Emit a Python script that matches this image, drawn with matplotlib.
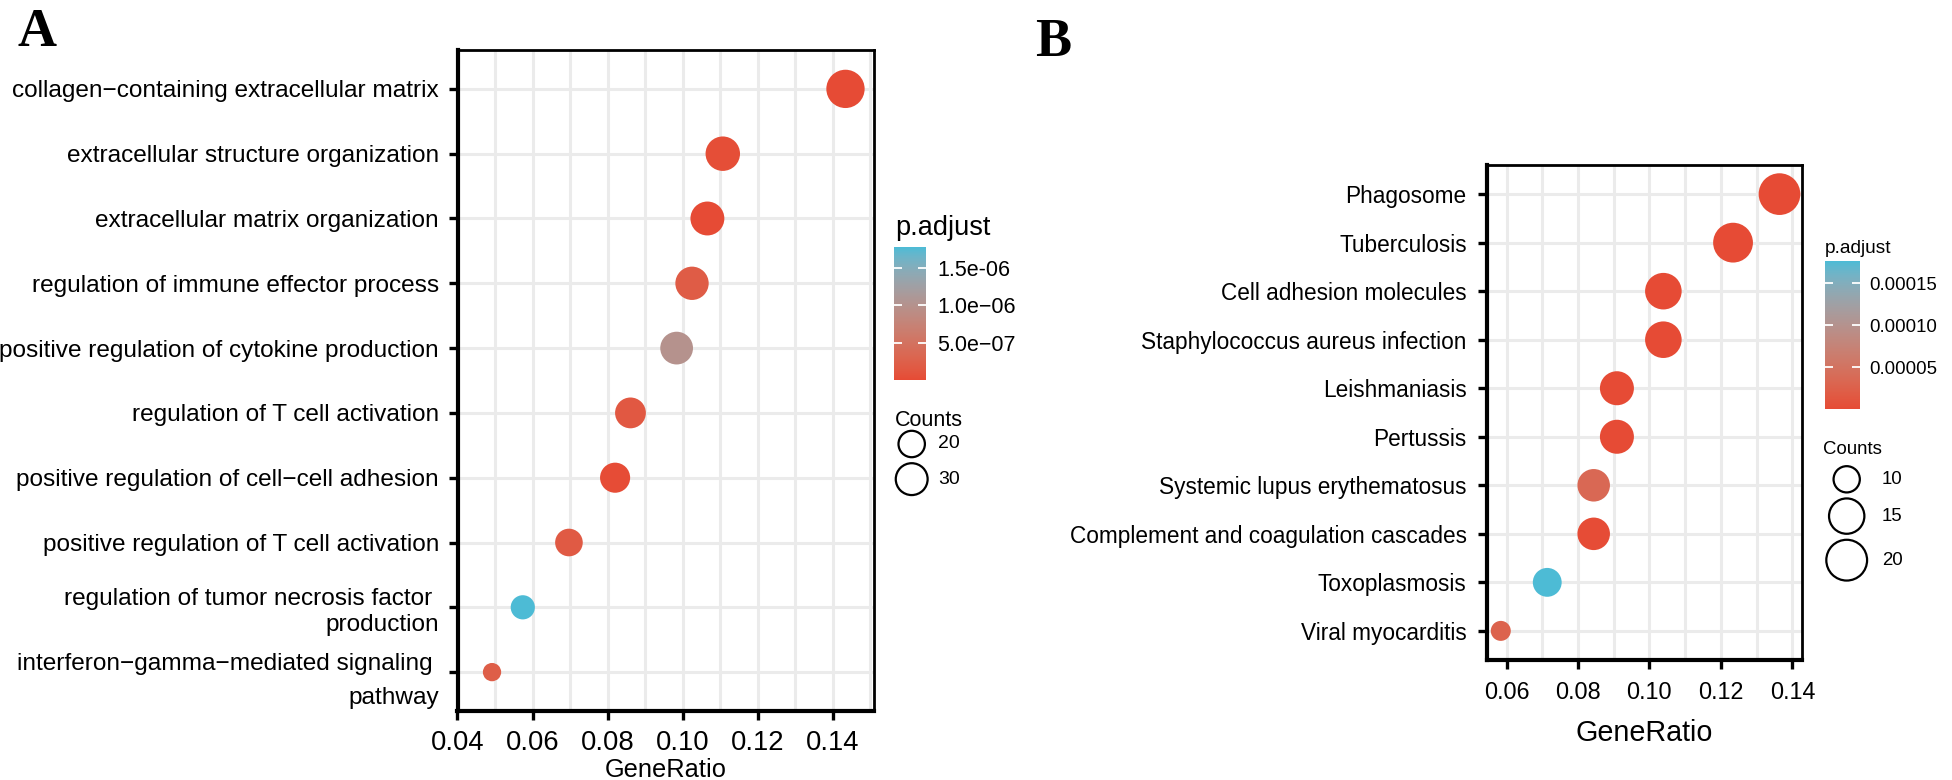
import numpy as np
import matplotlib
matplotlib.use("Agg")
import matplotlib.pyplot as plt
from matplotlib.colors import ListedColormap, Normalize, to_rgb
from matplotlib.cm import ScalarMappable
from matplotlib.ticker import MultipleLocator

plt.rcParams['font.family'] = ['Liberation Sans', 'DejaVu Sans']

# ---- data: panel A (GO terms), listed top -> bottom
terms_a = [
    "collagen\u2212containing extracellular matrix",
    "extracellular structure organization",
    "extracellular matrix organization",
    "regulation of immune effector process",
    "positive regulation of cytokine production",
    "regulation of T cell activation",
    "positive regulation of cell\u2212cell adhesion",
    "positive regulation of T cell activation",
    "regulation of tumor necrosis factor \nproduction",
    "interferon\u2212gamma\u2212mediated signaling \npathway",
]
ratio_a = [0.1434, 0.1107, 0.1066, 0.1025, 0.0984, 0.0861, 0.0820, 0.0697, 0.0574, 0.0492]
count_a = [35, 27, 26, 25, 24, 21, 20, 17, 14, 12]
padj_a = [1e-11, 3e-8, 5e-9, 1.9e-7, 1.0e-6, 1.5e-7, 1e-8, 1.7e-7, 1.78e-6, 2.2e-7]
cbar_ticks_a = [5e-7, 1e-6, 1.5e-6]
cbar_labels_a = ["5.0e\u221207", "1.0e\u221206", "1.5e-06"]
size_breaks_a = [20, 30]

# ---- data: panel B (KEGG pathways), listed top -> bottom
terms_b = [
    "Phagosome", "Tuberculosis", "Cell adhesion molecules",
    "Staphylococcus aureus infection", "Leishmaniasis", "Pertussis",
    "Systemic lupus erythematosus", "Complement and coagulation cascades",
    "Toxoplasmosis", "Viral myocarditis",
]
ratio_b = [0.1364, 0.1234, 0.1039, 0.1039, 0.0909, 0.0909, 0.0844, 0.0844, 0.0714, 0.0584]
count_b = [21, 19, 16, 16, 14, 14, 13, 13, 11, 9]
padj_b = [1e-10, 1e-9, 5e-8, 5e-8, 2e-7, 3e-7, 3.5e-5, 2e-6, 1.767e-4, 2.8e-5]
cbar_ticks_b = [5e-5, 1e-4, 1.5e-4]
cbar_labels_b = ["0.00005", "0.00010", "0.00015"]
size_breaks_b = [10, 15, 20]

W, H = 1952, 780
PX = 0.72  # points per pixel at dpi 100


# gradient red -> blue interpolated in CIELAB, like ggplot's scale_colour_gradient
def rgb2lab(c):
    c = np.asarray(c, float)
    lin = np.where(c <= 0.04045, c / 12.92, ((c + 0.055) / 1.055) ** 2.4)
    M = np.array([[0.4124, 0.3576, 0.1805], [0.2126, 0.7152, 0.0722], [0.0193, 0.1192, 0.9505]])
    xyz = M @ lin / np.array([0.95047, 1.0, 1.08883])
    f = np.where(xyz > (6 / 29) ** 3, np.cbrt(xyz), xyz / (3 * (6 / 29) ** 2) + 4 / 29)
    return np.array([116 * f[1] - 16, 500 * (f[0] - f[1]), 200 * (f[1] - f[2])])


def lab2rgb(lab):
    L, a, b = lab
    fy = (L + 16) / 116
    f = np.array([fy + a / 500, fy, fy - b / 200])
    xyz = np.where(f > 6 / 29, f ** 3, 3 * (6 / 29) ** 2 * (f - 4 / 29)) * np.array([0.95047, 1.0, 1.08883])
    Mi = np.array([[3.2406, -1.5372, -0.4986], [-0.9689, 1.8758, 0.0415], [0.0557, -0.2040, 1.0570]])
    lin = np.clip(Mi @ xyz, 0, 1)
    return np.clip(np.where(lin <= 0.0031308, 12.92 * lin, 1.055 * lin ** (1 / 2.4) - 0.055), 0, 1)


lo, hi = rgb2lab(to_rgb("#E64B35")), rgb2lab(to_rgb("#4DBBD5"))
cmap = ListedColormap([lab2rgb(lo + t * (hi - lo)) for t in np.linspace(0, 1, 256)])


def size_px(v, cmin, cmax, dmin, dmax):
    v = np.asarray(v, float)
    return dmin + np.sqrt((v - cmin) / (cmax - cmin)) * (dmax - dmin)


def px_rect(x0, y0, x1, y1):
    return [x0 / W, 1 - y1 / H, (x1 - x0) / W, (y1 - y0) / H]


def dot_panel(ax, terms, ratio, count, padj, xlim, xticks, dmin, dmax,
              fs_y, fs_x, fs_lab, ypad, xpad, labpad):
    n = len(terms)
    ypos = np.arange(n)[::-1]
    norm = Normalize(min(padj), max(padj))
    d = size_px(count, min(count), max(count), dmin, dmax)
    ax.scatter(ratio, ypos, s=(d * PX) ** 2, c=padj, cmap=cmap, norm=norm,
               edgecolors='none', zorder=3)
    ax.set_xlim(*xlim)
    ax.set_ylim(-0.6, n - 0.4)
    ax.set_xticks(xticks)
    ax.set_xticklabels([f"{t:.2f}" for t in xticks])
    ax.xaxis.set_minor_locator(MultipleLocator(0.01))
    ax.set_yticks(ypos)
    ax.set_yticklabels(terms)
    ax.set_axisbelow(True)
    ax.grid(True, which='both', axis='x', color='#EBEBEB', lw=2.2)
    ax.grid(True, which='major', axis='y', color='#EBEBEB', lw=2.2)
    ax.tick_params(which='major', direction='out', length=6.8, width=2.4, color='black')
    ax.tick_params(which='minor', length=0)
    ax.tick_params(axis='y', labelsize=fs_y, pad=ypad)
    ax.tick_params(axis='x', labelsize=fs_x, pad=xpad)
    for side in ['left', 'bottom']:
        ax.spines[side].set_linewidth(3.0)
    for side in ['top', 'right']:
        ax.spines[side].set_linewidth(2.0)
    ax.set_xlabel("GeneRatio", fontsize=fs_lab, labelpad=labpad)
    return norm


def colorbar(fig, rect, norm, ticks, labels, fs, pad):
    cax = fig.add_axes(rect)
    cb = fig.colorbar(ScalarMappable(norm=norm, cmap=cmap), cax=cax)
    cb.outline.set_visible(False)
    cb.set_ticks(ticks)
    cb.set_ticklabels(labels)
    cax.tick_params(direction='in', length=5.5, width=1.3, color='white',
                    left=True, right=True, labelleft=False, labelright=True,
                    labelsize=fs, pad=pad)


def size_legend(ov, values, cmin, cmax, dmin, dmax, x_title, y_title, x_key, y_first,
                x_lab, fs_title, fs_lab):
    ov.text(x_title, y_title, "Counts", fontsize=fs_title, va='center', ha='left')
    d = size_px(values, cmin, cmax, dmin, dmax)
    y = y_first
    for i, v in enumerate(values):
        if i > 0:
            y += (d[i - 1] + d[i]) / 2 + 6
        ov.scatter([x_key], [y], s=(d[i] * PX) ** 2, facecolors='none',
                   edgecolors='black', linewidths=1.6)
        ov.text(x_lab, y, str(v), fontsize=fs_lab, va='center', ha='left')


fig = plt.figure(figsize=(W / 100, H / 100), dpi=100)

ax_a = fig.add_axes(px_rect(457.5, 50, 874, 711))
norm_a = dot_panel(ax_a, terms_a, ratio_a, count_a, padj_a, (0.04, 0.151),
                   [0.04, 0.06, 0.08, 0.10, 0.12, 0.14], 18.3, 38.3,
                   17.6, 19.7, 18.3, 6.5, 7.0, 1.0)
labs = ax_a.get_yticklabels()
labs[8].set_linespacing(1.25)
labs[9].set_linespacing(1.72)

ax_b = fig.add_axes(px_rect(1486.5, 165, 1802, 660))
norm_b = dot_panel(ax_b, terms_b, ratio_b, count_b, padj_b, (0.0544, 0.1427),
                   [0.06, 0.08, 0.10, 0.12, 0.14], 20.0, 41.7,
                   16.3, 16.8, 20.7, 7.5, 8.0, 11.0)

colorbar(fig, px_rect(894, 247, 926, 380), norm_a, cbar_ticks_a, cbar_labels_a, 15.5, 8)
colorbar(fig, px_rect(1825, 261, 1860, 409), norm_b, cbar_ticks_b, cbar_labels_b, 13.4, 7)

ov = fig.add_axes([0, 0, 1, 1])
ov.set_xlim(0, W)
ov.set_ylim(H, 0)
ov.axis('off')

ov.text(17, 46, "A", family=['Liberation Serif', 'DejaVu Serif'], weight='bold', fontsize=39, va='baseline')
ov.text(1035, 56, "B", family=['Liberation Serif', 'DejaVu Serif'], weight='bold', fontsize=39, va='baseline')

ov.text(895, 235, "p.adjust", fontsize=19.5, va='baseline', ha='left')
ov.text(1825, 253, "p.adjust", fontsize=13.8, va='baseline', ha='left')

# legend keys of panel A are drawn a little smaller than its dots, as in the source figure
size_legend(ov, size_breaks_a, min(count_a), max(count_a), 15.5, 34.0,
            895, 420, 911.7, 444, 938, 15.5, 14)
size_legend(ov, size_breaks_b, min(count_b), max(count_b), 20.0, 41.7,
            1823, 450, 1846.7, 479.3, 1881.7, 13.4, 13.4)

fig.savefig("out.png", dpi=100, facecolor='white')
